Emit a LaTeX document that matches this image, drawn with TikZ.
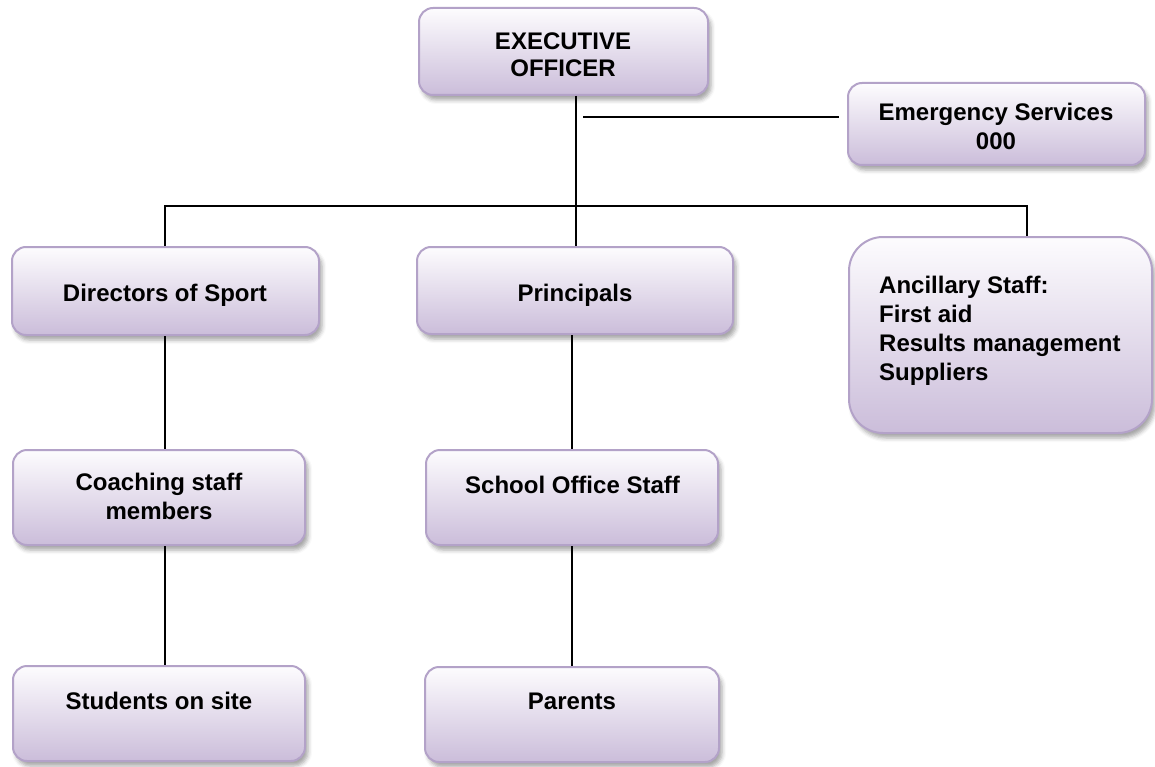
\documentclass[tikz,border=0pt]{standalone}
\usepackage{fontspec}
\setmainfont{Liberation Sans}
\usetikzlibrary{shadows.blur}
\definecolor{boxtop}{HTML}{FDFCFE}
\definecolor{boxbot}{HTML}{CBBDDA}
\definecolor{boxline}{HTML}{B3A2C8}
\tikzset{
  orgbox/.style={draw=boxline, line width=2pt, rounded corners=14pt,
    top color=boxtop, bottom color=boxbot, inner sep=0pt,
    blur shadow={shadow xshift=3pt, shadow yshift=-5pt, shadow blur radius=4pt, shadow opacity=35}},
  lbl/.style={font=\fontsize{24}{28}\selectfont\bfseries, inner sep=0pt, align=center},
  conn/.style={line width=1.5pt, black}
}
\begin{document}
\begin{tikzpicture}[x=1pt,y=-1pt]
\useasboundingbox (0,0) rectangle (1155,767);
% boxes
\node[orgbox, minimum width=289pt, minimum height=87pt] (exec) at (563.5,51.5) {};
\node[orgbox, minimum width=297pt, minimum height=82pt] (emerg) at (996.5,124) {};
\node[orgbox, minimum width=307pt, minimum height=88pt] (dir) at (165.5,291) {};
\node[orgbox, minimum width=316pt, minimum height=87pt] (prin) at (575,290.5) {};
\node[orgbox, rounded corners=34pt, minimum width=303pt, minimum height=196pt] (anc) at (1000.5,335) {};
\node[orgbox, minimum width=292pt, minimum height=95pt] (coach) at (159,497.5) {};
\node[orgbox, minimum width=292pt, minimum height=95pt] (school) at (572,497.5) {};
\node[orgbox, minimum width=292pt, minimum height=95pt] (stud) at (159,713.5) {};
\node[orgbox, minimum width=294pt, minimum height=95pt] (par) at (572,714.5) {};
% labels
\node[lbl, anchor=base, font=\fontsize{24}{27}\selectfont\bfseries] (execT) at (563,77) {EXECUTIVE\\OFFICER};
\node[lbl, anchor=base, font=\fontsize{24}{29}\selectfont\bfseries] (emergT) at (996,150) {Emergency Services\\000};
\node[lbl, anchor=base] (dirT) at (165,301.5) {Directors of Sport};
\node[lbl, anchor=base] (prinT) at (575,301) {Principals};
\node[lbl, anchor=base west, align=left, font=\fontsize{24}{29}\selectfont\bfseries] (ancT) at (879,380) {Ancillary Staff:\\First aid\\Results management\\Suppliers};
\node[lbl, anchor=base, font=\fontsize{24}{29}\selectfont\bfseries] (coachT) at (159,519) {Coaching staff\\members};
\node[lbl, anchor=base] (schoolT) at (572.5,493) {School Office Staff};
\node[lbl, anchor=base] (studT) at (159,709) {Students on site};
\node[lbl, anchor=base] (parT) at (572,709) {Parents};
% connectors
\coordinate (bus) at (576,206);
\coordinate (busL) at (165,206);
\coordinate (busR) at (1027,206);
\coordinate (emA) at (583,117);
\coordinate (colL) at (165,0);
\coordinate (colM) at (572,0);
\draw[conn] (exec.south -| bus) -- (prin.north -| bus);
\draw[conn] (dir.north -| busL) -- (busL) -- (busR) -- (anc.north -| busR);
\draw[conn, shorten >=8pt] (emA) -- (emA -| emerg.west);
\draw[conn] (dir.south -| colL) -- (coach.north -| colL);
\draw[conn] (coach.south -| colL) -- (stud.north -| colL);
\draw[conn] (prin.south -| colM) -- (school.north -| colM);
\draw[conn] (school.south -| colM) -- (par.north -| colM);
\end{tikzpicture}
\end{document}
